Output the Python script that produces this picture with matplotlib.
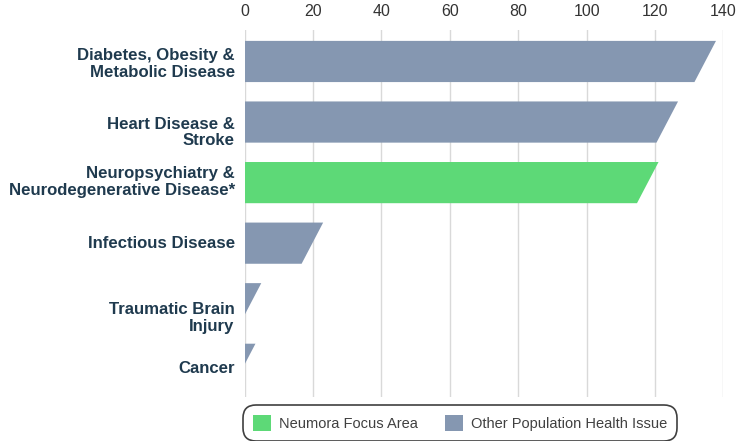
"""Horizontal bar chart of population health burden by disease area."""

import matplotlib.pyplot as plt
from matplotlib.patches import Patch, Polygon

categories = [
    "Diabetes, Obesity &\nMetabolic Disease",
    "Heart Disease &\nStroke",
    "Neuropsychiatry &\nNeurodegenerative Disease*",
    "Infectious Disease",
    "Traumatic Brain\nInjury",
    "Cancer",
]
values = [134.7, 123.6, 117.9, 19.8, 1.7, 0.0]
is_focus = [False, False, True, False, False, False]
x_ticks = [0, 20, 40, 60, 80, 100, 120, 140]

FOCUS_COLOR = "#5dd977"
OTHER_COLOR = "#8597b1"
LABEL_COLOR = "#1f3a4e"
TICK_COLOR = "#333333"

# slanted right edge of each bar, in data units across the bar height
SLANT = 6.3
BAR_HEIGHT = 0.68
# vertical nudge of each category label, pixels (positive = down)
label_nudge = [2.7, 10.4, -0.3, 0.8, 14.0, 4.0]

plt.rcParams["font.family"] = ["Liberation Sans", "DejaVu Sans"]

fig = plt.figure(figsize=(7.39, 4.41), dpi=100)
ax = fig.add_axes([0.3311, 0.0998, 0.6477, 0.8322])

for idx, (value, focus) in enumerate(zip(values, is_focus)):
    top = idx - BAR_HEIGHT / 2
    bottom = idx + BAR_HEIGHT / 2
    shape = Polygon(
        [(-20, top), (value + SLANT / 2, top), (value - SLANT / 2, bottom), (-20, bottom)],
        closed=True,
        facecolor=FOCUS_COLOR if focus else OTHER_COLOR,
        edgecolor="none",
        zorder=3,
    )
    ax.add_patch(shape)

for idx, (label, nudge) in enumerate(zip(categories, label_nudge)):
    ax.annotate(
        label,
        xy=(0, idx),
        xycoords=ax.get_yaxis_transform(),
        xytext=(-10, -nudge),
        textcoords="offset pixels",
        ha="right",
        va="center",
        multialignment="right",
        fontsize=12.1,
        fontweight="bold",
        color=LABEL_COLOR,
        linespacing=1.15,
    )

ax.set_xlim(0, 140)
ax.set_ylim(len(categories) - 1 + 0.54, -0.52)
ax.set_xticks(x_ticks)
ax.set_yticks([])
ax.xaxis.tick_top()
ax.tick_params(axis="x", length=0, pad=8, labelsize=11.5, labelcolor=TICK_COLOR)
ax.grid(True, axis="x", color="#d9d9d9", linewidth=1.0, zorder=0)
ax.set_axisbelow(True)
for spine in ax.spines.values():
    spine.set_visible(False)

handles = [
    Patch(facecolor=FOCUS_COLOR, edgecolor="none", label="Neumora Focus Area"),
    Patch(facecolor=OTHER_COLOR, edgecolor="none", label="Other Population Health Issue"),
]
legend = fig.legend(
    handles=handles,
    loc="center",
    bbox_to_anchor=(0.6225, 0.0408),
    ncol=2,
    fontsize=10.5,
    handlelength=1.25,
    handleheight=1.25,
    handletextpad=0.5,
    columnspacing=1.9,
    borderpad=0.55,
    frameon=True,
    fancybox=True,
)
frame = legend.get_frame()
frame.set_boxstyle("round", pad=0.15, rounding_size=0.9)
frame.set_edgecolor("#404040")
frame.set_linewidth(1.2)
frame.set_alpha(1.0)
for text in legend.get_texts():
    text.set_color("#404040")

fig.savefig("out.png", dpi=100)
